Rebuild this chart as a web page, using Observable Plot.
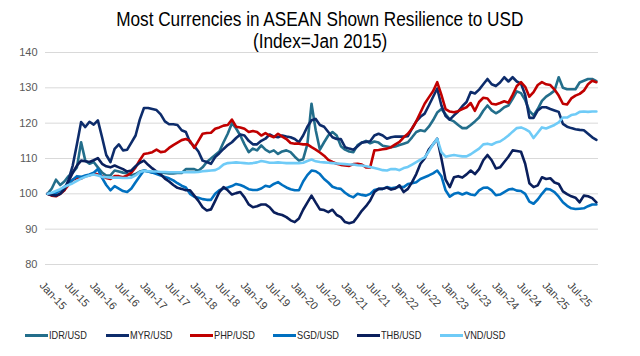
<!DOCTYPE html>
<html><head><meta charset="utf-8">
<script src="https://cdn.jsdelivr.net/npm/d3@7"></script>
<script src="https://cdn.jsdelivr.net/npm/@observablehq/plot@0.6"></script>
<style>
body{margin:0;background:#fff;width:640px;height:356px;position:relative;overflow:hidden;font-family:"Liberation Sans",Arial,sans-serif;}
#title{position:absolute;left:0;width:640px;top:8px;text-align:center;font-size:20px;line-height:22px;color:#000;}
#title span{display:inline-block;transform:scaleX(0.86);transform-origin:50% 50%;white-space:nowrap;}
#chart{position:absolute;left:0;top:40px;}
#legend{position:absolute;left:0;top:327px;width:640px;height:16px;}
.item{position:absolute;top:0;height:16px;display:flex;align-items:center;font-size:11.5px;color:#262626;white-space:nowrap;}
.swatch{width:23px;height:3px;margin-right:1px;flex:none;}
.lab{display:inline-block;transform:scaleX(0.8);transform-origin:0 50%;}
</style></head><body>
<div id="title"><span>Most Currencies in ASEAN Shown Resilience to USD</span><br><span>(Index=Jan 2015)</span></div>
<div id="chart"></div>
<div id="legend"></div>
<script>
const seriesNames = ["IDR/USD","MYR/USD","PHP/USD","SGD/USD","THB/USD","VND/USD"];
const seriesColors = ["#236e8b","#0d2c6b","#c00000","#0070c0","#0a1f5c","#6fcbf7"];
const xTickLabels = ["Jan-15","Jul-15","Jan-16","Jul-16","Jan-17","Jul-17","Jan-18","Jul-18","Jan-19","Jul-19","Jan-20","Jul-20","Jan-21","Jul-21","Jan-22","Jul-22","Jan-23","Jul-23","Jan-24","Jul-24","Jan-25","Jul-25"];
const yTicks = [80,90,100,110,120,130,140];

// monthly index values, Jan 2015 .. Dec 2025
const IDR = [
100,101.5,104,102.5,103.5,105,106,107.5,114.6,109.4,108.5,109,
107.5,106,105.2,105.2,106.6,106.3,106,105.8,105.2,105.6,106.3,106.6,
106.3,106.1,106,106,105.9,105.8,105.8,105.9,105.9,107,107,107,
106.5,107.5,109,110,111,112,114.6,117,120,118.5,116.5,114,
111.8,112.8,112.3,113.7,112.5,111.8,112.3,111.3,112,112.3,111.8,110.5,
109.4,109.8,114,125.5,118,112.5,114.6,116.5,117.5,116.5,113.5,112.5,
112,111.8,113.8,114.5,115,114.3,114.8,114.5,113.6,113.4,113.2,113.4,
113.8,114.2,114.6,116,117.5,118,117.7,119,120.8,123,124,122.5,
121,120.5,119.5,118.6,118.6,119.5,120.5,121.6,123.5,125,123.6,122.8,
123.5,124.5,125,126.9,129,128.5,126.5,123.5,122.2,124,126.3,127.5,
128.3,129.2,133,130,129.6,129.6,129.6,131.5,132,132.5,132.5,131.9];
const MYR = [
100,99.6,99.5,100,101,104,108,114,120.3,118.9,120.4,119.6,
120.8,116,111,109,112.7,114,112.3,112.5,114.5,116.5,121,124.3,
124.3,124,123.7,122.5,120.5,119.7,119.7,119.5,118,117.5,114.6,113.5,
112,109.4,109,108.5,110.4,111.5,112.7,113.8,114.6,115.8,116.8,116.5,
115,114,114,115,115.6,116.8,116.2,116,116.5,116.2,116,115.5,
114.6,116.5,119,120.8,121.2,119.5,119,117.5,116,115.5,115.5,113.2,
112.8,112.5,113.5,114.5,114.7,114.9,116.5,117,116.5,115.6,116,116.2,
116.2,116.2,116.3,118.5,120.5,121.8,122.7,125,127.4,129.8,125,122,
121,122.2,123.3,124.8,126,128.8,128.4,129.5,131,132.5,131,130.5,
131.5,133,131.8,133,131.8,131.2,128,121.5,121.5,123.6,124.5,124.5,
124,123.6,123.2,119.8,119,118.6,118.3,118.1,118,117,116,115.3];
const PHP = [
100,99.5,99.3,100,101,102.5,104,104.5,104.3,105,105.2,105.8,
105.5,105,104.5,104.2,105,105,104.7,105.2,106,107.5,109.5,111.3,
111.5,111.8,112.5,111.8,112,113,113.8,114.5,115.2,115.5,115,113,
115,117,117.2,117.3,118.4,118.8,119.3,119.5,121,119,118.8,118.4,
117.5,117.8,117.5,116.5,117.2,116.5,116,117,116.2,115.5,114.4,114.2,
114.2,114,114,113.2,112.5,111.7,110.8,109.6,109,108.5,108.2,108,
107.9,108.4,108.5,108.3,107.5,107.5,112.3,112.4,112.6,112.8,113.2,114,
114.7,116,117,118.5,120.5,123,125.5,127.3,129,131.6,128,124,
123.3,123.1,123.4,124,124.5,125.7,123.5,126,127.2,127,125.5,125.3,
125.7,126.2,125.8,128,130.5,131.6,130.3,127.5,128.8,130.8,131.6,131,
130.8,129.5,127.8,125.5,125.3,127,127.8,128.3,129.2,131,132,131.6];
const SGD = [
100,99.8,100.3,101,102,103,104,105,104.8,105.2,105.5,106,
107,104.5,102.5,101,102.2,101.5,100.8,100.5,101.5,103.3,105,106.6,
106.3,106,105.6,105.2,104.8,104.4,103.8,103,102.3,101.8,100,99.2,
98.9,98.5,98.3,98.3,100,101,101.5,101.8,102.2,102.8,102.5,102,
101.3,101.1,101.1,101.5,102.3,102,102.8,103.3,102.5,101.8,101.3,101,
101,103.5,105.3,106.6,106.4,105.6,104.2,103.2,102,101.6,101.4,100.3,
99.5,99,100,99.7,99.5,100,101.1,101.4,101.4,101.9,101.6,101.8,
102,101.9,102.8,103,103.3,104.2,104.7,105.2,105.8,106.6,105,101,
99.2,100,100.3,99.8,100.3,99.8,99.6,101,101.7,101.8,101,99.6,
99.8,100.5,101.2,101.4,100.9,100.8,100,97.8,97.2,98.4,100,101.4,
101.2,100.5,99.2,97.6,96.6,95.9,95.7,95.8,95.9,96.5,97,97];
const THB = [
100,99.7,99.5,100,101.3,103.5,106,108,109.4,109.2,109,109.5,
110.1,108.5,107.8,107.5,108,107.5,107,106.3,106.6,107.8,108.8,109.4,
108.2,107.2,106.3,105.5,104.3,103.5,102.5,101.7,101.4,101,101,99.5,
98,96.2,95.3,95.6,98,100.5,101.9,101,99.8,100.2,100.5,99,
97,96.2,96.5,97,97,96.2,94.8,94.3,94,93.4,92.5,92,
93,95.5,97.5,99.5,97.5,95.6,95.4,94.8,95.5,94,93.4,92,
91.7,92,93.5,95.2,96.5,98.1,100.5,101.4,101.4,101.8,101.2,101.5,
102.4,100.5,101.4,103.3,105.6,108.5,110,112.5,114,115.6,110,104,
101.9,104.7,105,104.6,105.5,106.6,105.6,107,109.5,111,109.5,107.2,
107.5,109,110.5,112.3,112.1,111.9,108.5,103,101.9,102.4,104.7,104.2,
104.4,103.2,102.8,100.7,99.9,99.3,98.9,97.6,99.5,99.3,98.8,97.6];
const VND = [
100,100.3,100.8,101.3,102,102.5,103,103.7,104.3,104.8,105.2,105.5,
105.2,104.8,104.7,104.6,104.6,104.6,104.5,104.5,104.6,105.2,106.2,106.5,
106.4,106.3,106.3,106.2,106.2,106.1,106.1,106.1,106.1,106.1,106.1,106.1,
106.2,106.4,106.5,106.6,106.7,107.3,108.3,108.7,108.8,108.9,108.8,108.7,
108.6,108.7,108.9,109.3,109.1,108.8,108.8,108.9,108.8,108.7,108.7,108.7,
108.7,108.8,109.3,109.7,109.2,109,108.9,108.8,108.7,108.6,108.5,108.4,
108.3,108.3,108.1,108,107.8,107.6,107.3,107,106.7,106.6,107,107,
106.7,107.3,107.6,108.3,109,109.7,110.3,112,114,115.6,111.8,110.5,
110.8,111,110.8,110.6,110.6,111.2,112,112.8,114,114.2,113.9,114.5,
114.8,115.6,116.5,117.6,118.6,118.8,118.3,117.6,115.8,117.3,118.8,118.5,
119,119.5,120.2,121.6,121.6,122.3,122.5,123.2,123.3,123.2,123.3,123.3];

const seriesValues = [IDR, MYR, PHP, SGD, THB, VND];
const data = seriesValues.flatMap((vals, s) => vals.map((v, m) => ({series: seriesNames[s], m, v})));
const nMonths = IDR.length;
const xTickIdx = xTickLabels.map((_, i) => i * 6);
const fontFam = '"Liberation Sans",Arial,sans-serif';

const chart = Plot.plot({
  width: 640, height: 284,
  marginLeft: 45, marginRight: 42, marginTop: 12, marginBottom: 60,
  x: {domain: [-0.5, nMonths - 0.5], axis: null},
  y: {domain: [80, 140], axis: null},
  color: {domain: seriesNames, range: seriesColors},
  style: {fontFamily: fontFam, background: "transparent", overflow: "visible"},
  marks: [
    Plot.ruleY(yTicks, {stroke: "#d9d9d9", strokeWidth: 1}),
    Plot.axisY(yTicks, {label: null, tickSize: 0, tickPadding: 8, fontSize: 11, fill: "#595959", tickFormat: d => String(d)}),
    Plot.axisX(xTickIdx, {label: null, tickSize: 0, tickPadding: 19, dx: -6, tickRotate: 47, fontSize: 11, fill: "#404040", tickFormat: d => xTickLabels[d / 6]}),
    Plot.line(data, {x: "m", y: "v", z: "series", stroke: "series", strokeWidth: 2.6, strokeLinejoin: "round"})
  ]
});
document.getElementById("chart").appendChild(chart);

const lefts = [25, 106, 190, 273, 357, 440];
const legend = document.getElementById("legend");
seriesNames.forEach((name, i) => {
  const item = document.createElement("div");
  item.className = "item";
  item.style.left = lefts[i] + "px";
  const sw = document.createElement("span");
  sw.className = "swatch";
  sw.style.background = seriesColors[i];
  const tx = document.createElement("span");
  tx.className = "lab";
  tx.textContent = name;
  item.appendChild(sw); item.appendChild(tx);
  legend.appendChild(item);
});
</script>
</body></html>
